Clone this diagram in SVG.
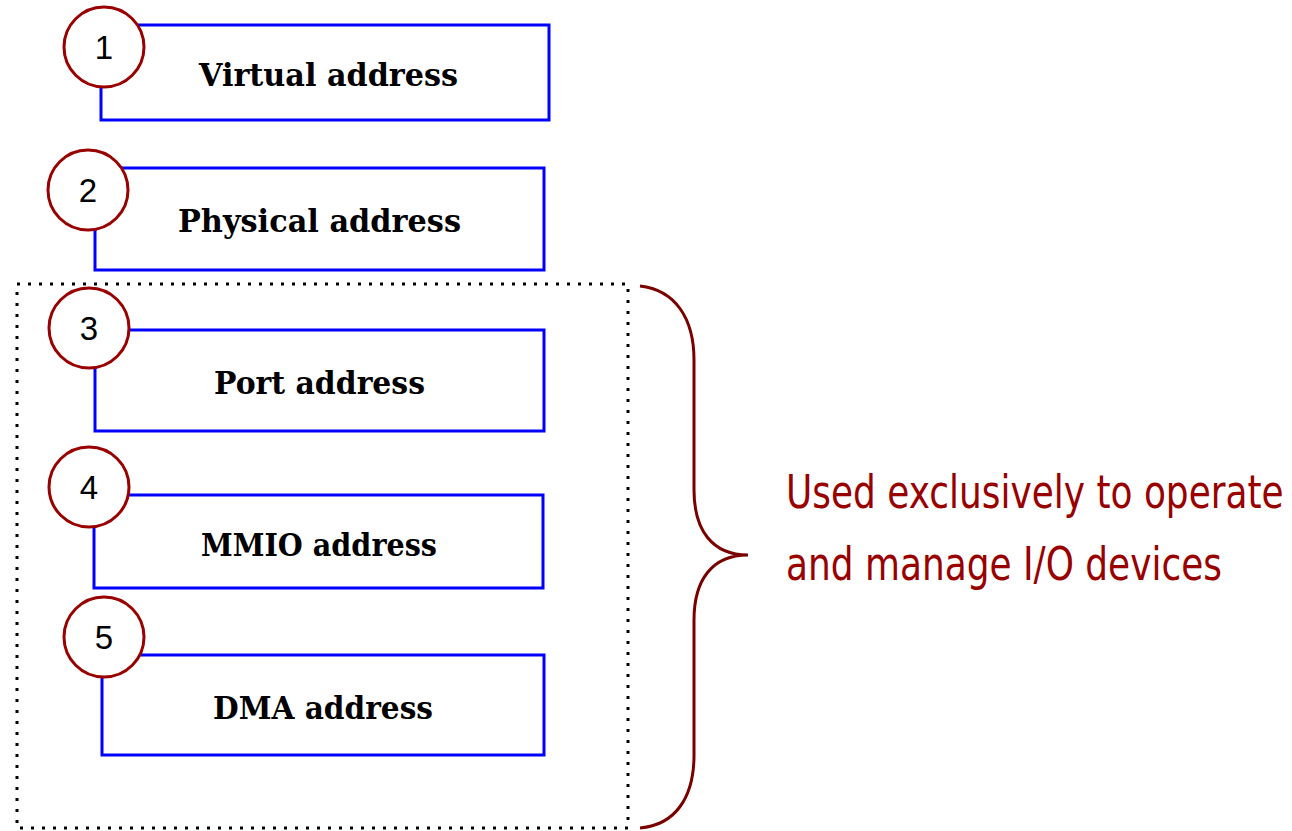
<svg xmlns="http://www.w3.org/2000/svg" width="1292" height="831" viewBox="0 0 1292 831">
  <style>
    .box { fill: #ffffff; stroke: #0000ff; stroke-width: 3; }
    .badge { fill: #ffffff; stroke: #990000; stroke-width: 3; }
    .num { font-family: "Liberation Sans", Arial, sans-serif; font-size: 33px; fill: #000000; text-anchor: middle; }
    .label { font-family: "DejaVu Serif", "Liberation Serif", serif; font-weight: bold; font-size: 31px; fill: #000000; }
    .note { font-family: "DejaVu Sans", "Liberation Sans", sans-serif; font-size: 47px; fill: #990000; }
    .group { fill: none; stroke: #000000; stroke-width: 3; stroke-dasharray: 3 8; }
    .brace { fill: none; stroke: #7a0000; stroke-width: 3; }
  </style>

  <!-- dotted frame around the I/O address kinds -->
  <rect class="group" x="17" y="284" width="611" height="544"/>

  <g id="virtual">
    <rect class="box" x="101" y="25" width="448" height="95"/>
    <circle class="badge" cx="104" cy="47" r="40"/>
    <text class="num" x="104" y="59">1</text>
    <text class="label" x="199" y="86" textLength="259" lengthAdjust="spacingAndGlyphs">Virtual address</text>
  </g>

  <g id="physical">
    <rect class="box" x="95" y="168" width="449" height="102"/>
    <circle class="badge" cx="88" cy="190" r="40"/>
    <text class="num" x="88" y="202">2</text>
    <text class="label" x="178" y="232" textLength="283" lengthAdjust="spacingAndGlyphs">Physical address</text>
  </g>

  <g id="port">
    <rect class="box" x="95" y="330" width="449" height="101"/>
    <circle class="badge" cx="89" cy="328" r="40"/>
    <text class="num" x="89" y="340">3</text>
    <text class="label" x="214" y="394" textLength="211" lengthAdjust="spacingAndGlyphs">Port address</text>
  </g>

  <g id="mmio">
    <rect class="box" x="94" y="495" width="449" height="93"/>
    <circle class="badge" cx="89" cy="487" r="40"/>
    <text class="num" x="89" y="499">4</text>
    <text class="label" x="201" y="556" textLength="236" lengthAdjust="spacingAndGlyphs">MMIO address</text>
  </g>

  <g id="dma">
    <rect class="box" x="102" y="655" width="442" height="100"/>
    <circle class="badge" cx="104" cy="637" r="40"/>
    <text class="num" x="104" y="649">5</text>
    <text class="label" x="213" y="719" textLength="220" lengthAdjust="spacingAndGlyphs">DMA address</text>
  </g>

  <g id="connectors">
    <!-- curly brace grouping items 3-5 -->
    <path class="brace" d="M640,286 C675,290 694,318 694,360 L694,490 C694,530 712,555 748,555 C712,555 694,580 694,620 L694,755 C694,798 675,825 640,828"/>
  </g>

  <g id="note">
    <!-- narrowed horizontally to a condensed look -->
    <text class="note" transform="translate(786,508) scale(0.764,1)">Used exclusively to operate</text>
    <text class="note" transform="translate(786,580) scale(0.764,1)">and manage I/O devices</text>
  </g>
</svg>
